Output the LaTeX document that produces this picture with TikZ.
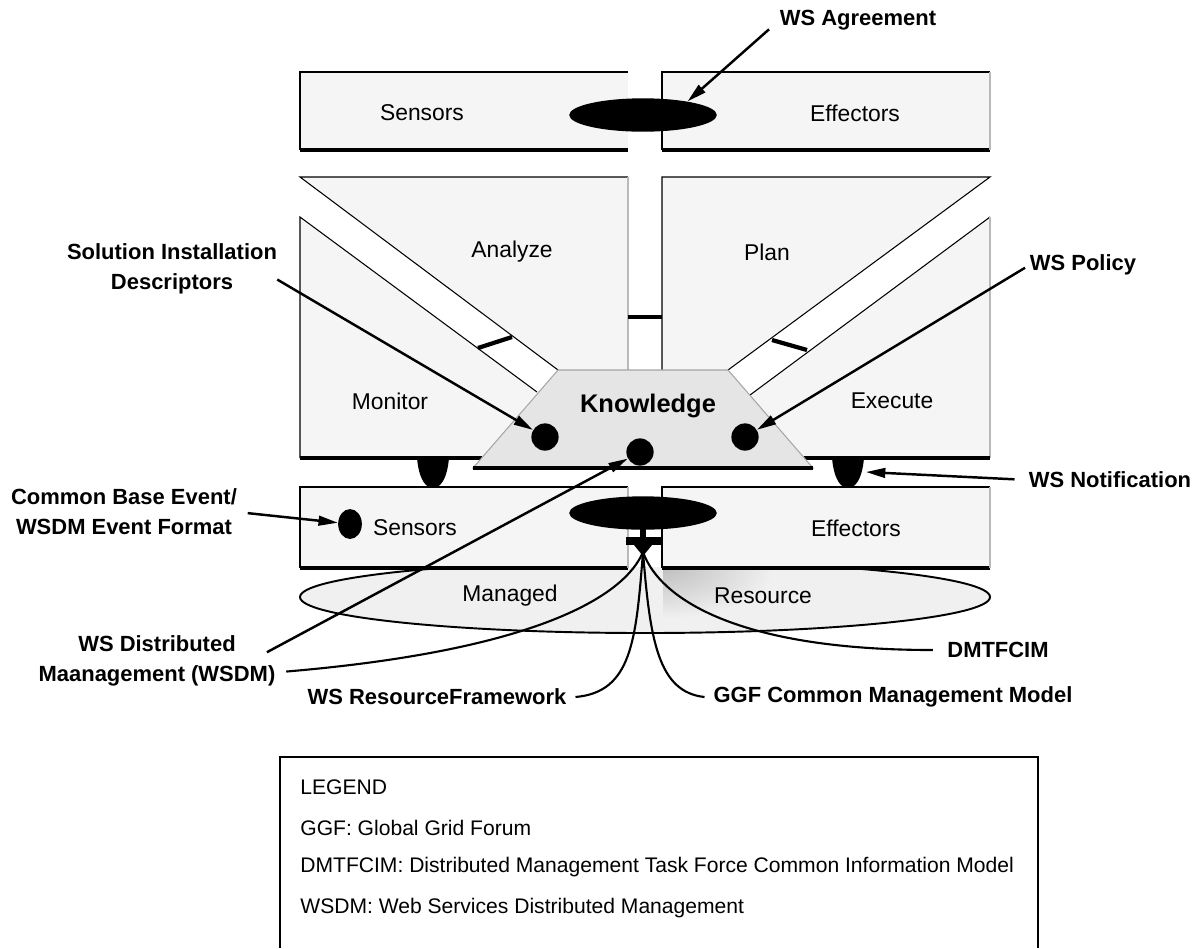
\documentclass[tikz,border=0pt]{standalone}
\usepackage{fontspec}
\setmainfont{Liberation Sans}
\usetikzlibrary{arrows.meta,shapes.geometric}

\begin{document}
\begin{tikzpicture}[x=0.02cm, y=0.02cm]
\tikzstyle{every node}+=[inner sep=0pt]
\tikzstyle{panel}=[fill=gray!8]
\tikzstyle{edge}=[black, line width=0.6pt]
\tikzstyle{softedge}=[gray!55, line width=0.9pt]
\tikzstyle{ledge}=[black, line width=1.8pt]
\tikzstyle{inlabel}=[font=\fontsize{13}{15}\selectfont]
\tikzstyle{callout}=[font=\bfseries\fontsize{12.5}{17}\selectfont, align=center]
\tikzstyle{legendline}=[font=\fontsize{12}{14}\selectfont, anchor=west]
\tikzstyle{pointer}=[line width=1.4pt, -{Triangle[length=11pt,width=5.5pt]}]
\tikzstyle{feed}=[line width=1.2pt]
\tikzstyle{dot}=[circle, fill=black, minimum size=15.5pt]
\tikzstyle{oval}=[ellipse, fill=black, minimum width=84pt, minimum height=19pt]
\tikzstyle{plug}=[black, line width=2.4pt]
\useasboundingbox (0,0) rectangle (1195,-948);
% managed resource
\draw [black, line width=1.1pt, fill=gray!12] (645,-597) ellipse (345 and 36);
\begin{scope}
\clip (663,-568) rectangle (780,-625);
\shade [inner color=gray!50, outer color=gray!12] (663,-568) ellipse (110 and 50);
\end{scope}
\node [inlabel] (managed) at (510,-596) {Managed};
\node [inlabel] (resource) at (763,-596) {Resource};
% top sensors / effectors
\fill [panel] (300,-72) rectangle (628,-150);
\draw [edge] (628,-72) -- (300,-72) -- (300,-150);
\draw [ledge] (300,-150) -- (628,-150);
\fill [panel] (662,-72) rectangle (990,-150);
\draw [edge] (990,-72) -- (662,-72) -- (662,-150);
\draw [ledge] (662,-150) -- (990,-150);
\draw [softedge] (990,-72) -- (990,-150);
\node [inlabel] (sensTop) at (422,-113) {Sensors};
\node [inlabel] (effTop) at (855,-113) {Effectors};
\node [oval] (agreeOval) at (643,-115) {};
% analyze
\fill [panel] (300,-177) -- (628,-177) -- (628,-370) -- (558,-370) -- cycle;
\draw [edge] (628,-177) -- (300,-177) -- (558,-370);
\draw [softedge] (628,-177) -- (628,-370);
% monitor
\fill [panel] (300,-217) -- (537,-392) -- (482,-458) -- (300,-458) -- cycle;
\draw [edge] (537,-392) -- (300,-217) -- (300,-458);
\draw [ledge] (300,-458) -- (482,-458);
% plan
\fill [panel] (662,-177) -- (990,-177) -- (728,-370) -- (662,-370) -- cycle;
\draw [edge] (662,-370) -- (662,-177) -- (990,-177) -- (728,-370);
% execute
\fill [panel] (990,-217) -- (990,-458) -- (804,-458) -- (750,-395) -- cycle;
\draw [edge] (750,-395) -- (990,-217);
\draw [softedge] (990,-217) -- (990,-458);
\draw [ledge] (804,-458) -- (990,-458);
\node [inlabel] (analyze) at (512,-252) {Analyze};
\node [inlabel] (plan) at (767,-252) {Plan};
\node [inlabel] (monitor) at (390,-401) {Monitor};
\node [inlabel] (execute) at (892,-401) {Execute};
% knowledge
\filldraw [fill=gray!20, draw=gray!70, line width=0.6pt] (558,-370) -- (728,-370) -- (813,-468) -- (473,-468) -- cycle;
\draw [ledge] (473,-468) -- (813,-468);
\node [font=\bfseries\fontsize{14.5}{17}\selectfont] (know) at (648,-406) {Knowledge};
\draw [plug] (478,-348) -- (512,-337);
\draw [plug] (772,-340) -- (807,-350);
\draw [plug] (628,-317) -- (662,-317);
\node [dot] (sidDot) at (545,-437) {};
\node [dot] (wsdmDot) at (640,-452) {};
\node [dot] (policyDot) at (745,-437) {};
% touchpoint blobs
\fill (417,-458) .. controls (419,-480) and (426,-488) .. (433,-488) .. controls (440,-488) and (447,-480) .. (449,-458) -- cycle;
\fill (832,-458) .. controls (834,-480) and (841,-488) .. (848,-488) .. controls (855,-488) and (862,-480) .. (864,-458) -- cycle;
\coordinate (notifyTip) at (866,-472);
% bottom sensors / effectors
\fill [panel] (300,-487) rectangle (628,-568);
\draw [edge] (628,-487) -- (300,-487) -- (300,-568);
\draw [ledge] (300,-568) -- (628,-568);
\draw [softedge] (628,-487) -- (628,-568);
\fill [panel] (662,-487) rectangle (990,-568);
\draw [edge] (990,-487) -- (662,-487) -- (662,-568);
\draw [ledge] (662,-568) -- (990,-568);
\draw [softedge] (990,-487) -- (990,-568);
\fill [white] (629,-550) rectangle (661,-567);
\node [inlabel] (sensBot) at (415,-528) {Sensors};
\node [inlabel] (effBot) at (856,-528) {Effectors};
\node [dot, ellipse, minimum width=13.5pt, minimum height=17pt] (cbeDot) at (350,-524) {};
\node [oval] (baseOval) at (643,-513) {};
\fill (640,-528) rectangle (646,-538);
\fill (626,-537) rectangle (663,-545);
\fill (634,-545) -- (652,-545) -- (643,-556) -- cycle;
\coordinate (fanRoot) at (643,-552);
% callouts
\node [callout] (agreeLbl) at (858,-20) {WS Agreement};
\node [callout] (sidLbl) at (172,-269) {Solution Installation\\Descriptors};
\node [callout] (policyLbl) at (1083,-265) {WS Policy};
\node [callout] (notifyLbl) at (1110,-480) {WS Notification};
\node [callout] (cbeLbl) at (124,-512) {Common Base Event/\\WSDM Event Format};
\node [callout] (wsdmLbl) at (157,-661) {WS Distributed\\Maanagement (WSDM)};
\node [callout] (dmtfLbl) at (998,-650) {DMTFCIM};
\node [callout] (wsrfLbl) at (437,-697) {WS ResourceFramework};
\node [callout] (ggfLbl) at (893,-697) {GGF Common Management Model};
\draw [pointer, shorten <=8pt] (agreeLbl.west) -- (agreeOval.17);
\draw [pointer] ([yshift=-6pt]sidLbl.east) -- (sidDot);
\draw [pointer, shorten <=3pt] (policyLbl.west) -- (policyDot);
\draw [pointer, shorten <=8pt] (notifyLbl.west) -- (notifyTip);
\draw [pointer, shorten <=6pt] (cbeLbl.east) -- (cbeDot);
\draw [pointer] ([shift={(-5pt,5pt)}]wsdmLbl.east) -- (wsdmDot);
% fan to the models
\draw [feed] (fanRoot) .. controls (625,-595) and (540,-650) .. ([shift={(6pt,-6pt)}]wsdmLbl.east);
\draw [feed] (fanRoot) .. controls (636,-640) and (632,-692) .. ([xshift=5pt]wsrfLbl.east);
\draw [feed] (fanRoot) .. controls (650,-640) and (658,-692) .. ([xshift=-5pt]ggfLbl.west);
\draw [feed] (fanRoot) .. controls (660,-600) and (740,-650) .. ([xshift=-8pt]dmtfLbl.west);
% legend
\draw [line width=1.2pt] (280,-948) -- (280,-757) -- (1038,-757) -- (1038,-948);
\node [legendline] (legHead) at (300,-787) {LEGEND};
\node [legendline] (legGGF) at (300,-828) {GGF: Global Grid Forum};
\node [legendline] (legDMTF) at (300,-867) {DMTFCIM: Distributed Management Task Force Common Information Model};
\node [legendline] (legWSDM) at (300,-908) {WSDM: Web Services Distributed Management};
\end{tikzpicture}
\end{document}
